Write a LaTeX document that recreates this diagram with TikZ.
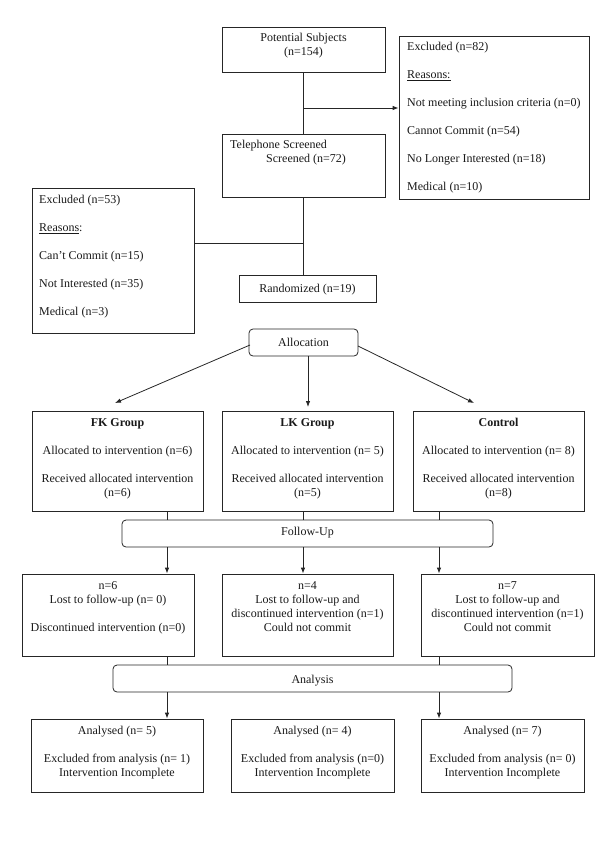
\documentclass[tikz,border=0pt]{standalone}
\usepackage{fontspec}
\setmainfont{Liberation Serif}
\usetikzlibrary{arrows.meta,fit}
\begin{document}
\begin{tikzpicture}[x=1pt,y=-1pt,
  box/.style={draw=black!85, line width=0.8pt, inner sep=0pt, rectangle},
  rbox/.style={box, rounded corners=4pt},
  txt/.style={inner sep=0pt, font=\fontsize{12}{14}\selectfont, align=center, anchor=north, text=black!90},
  ltxt/.style={txt, align=left, anchor=north west},
  ln/.style={draw=black!85, line width=0.8pt},
  arr/.style={ln, -{Latex[length=6pt,width=4.5pt]}}]
\useasboundingbox (0,0) rectangle (600,848);

% ---- boxes ----
\node[box, fit={(222,27) (385,72)}] (ps) {};
\node[box, fit={(399,36) (589,199)}] (ex82) {};
\node[box, fit={(222,134) (385,197)}] (tel) {};
\node[box, fit={(239,275) (376,302)}] (rand) {};
\node[box, fit={(32,188) (194,333)}] (ex53) {};
\node[rbox, fit={(249,329) (358,356)}] (alloc) {};
\node[box, fit={(32,411) (203,511)}] (fk) {};
\node[box, fit={(222,411) (393,511)}] (lk) {};
\node[box, fit={(413,411) (584,511)}] (ctl) {};
\node[rbox, fit={(122,520) (493,547)}] (fu) {};
\node[box, fit={(22,574) (194,656)}] (fa) {};
\node[box, fit={(222,574) (393,656)}] (fb) {};
\node[box, fit={(421,574) (594,656)}] (fc) {};
\node[rbox, fit={(113,665) (512,692)}] (an) {};
\node[box, fit={(31,719) (203,792)}] (aa) {};
\node[box, fit={(231,719) (394,792)}] (ab) {};
\node[box, fit={(421,719) (584,792)}] (ac) {};

% ---- texts (first baseline - 9.8) ----
\node[txt] (pst) at (303.5,31.2) {\strut Potential Subjects\\(n=154)};
\node[ltxt] (ex82t) at (407,40.2) {\strut Excluded (n=82)\\[14pt]\underline{Reasons:}\\[14pt]Not meeting inclusion criteria (n=0)\\[14pt]Cannot Commit (n=54)\\[14pt]No Longer Interested (n=18)\\[14pt]Medical (n=10)};
\node[ltxt] (telt) at (230,138.2) {\strut Telephone Screened\\\hspace*{36pt}Screened (n=72)};
\node[txt] (randt) at (307.5,282.2) {\strut Randomized (n=19)};
\node[ltxt] (ex53t) at (39,193.2) {\strut Excluded (n=53)\\[14pt]\underline{Reasons}:\\[14pt]Can’t Commit (n=15)\\[14pt]Not Interested (n=35)\\[14pt]Medical (n=3)};
\node[txt] (allt) at (303.5,336.2) {\strut Allocation};
\node[txt] (fkt) at (117.5,416.2) {\strut\textbf{FK Group}\\[14pt]Allocated to intervention (n=6)\\[14pt]Received allocated intervention\\(n=6)};
\node[txt] (lkt) at (307.5,416.2) {\strut\textbf{LK Group}\\[14pt]Allocated to intervention (n= 5)\\[14pt]Received allocated intervention\\(n=5)};
\node[txt] (ctlt) at (498.5,416.2) {\strut\textbf{Control}\\[14pt]Allocated to intervention (n= 8)\\[14pt]Received allocated intervention\\(n=8)};
\node[txt] (fut) at (307.5,525.2) {\strut Follow-Up};
\node[txt] (fat) at (108,579.2) {\strut n=6\\Lost to follow-up (n= 0)\\[14pt]Discontinued intervention (n=0)};
\node[txt] (fbt) at (307.5,579.2) {\strut n=4\\Lost to follow-up and\\discontinued intervention (n=1)\\Could not commit};
\node[txt] (fct) at (507.5,579.2) {\strut n=7\\Lost to follow-up and\\discontinued intervention (n=1)\\Could not commit};
\node[txt] (ant) at (312.5,673.2) {\strut Analysis};
\node[txt] (aat) at (117,724.2) {\strut Analysed (n= 5)\\[14pt]Excluded from analysis (n= 1)\\Intervention Incomplete};
\node[txt] (abt) at (312.5,724.2) {\strut Analysed (n= 4)\\[14pt]Excluded from analysis (n=0)\\Intervention Incomplete};
\node[txt] (act) at (502.5,724.2) {\strut Analysed (n= 7)\\[14pt]Excluded from analysis (n= 0)\\Intervention Incomplete};

% ---- helper coordinates ----
\coordinate (j1) at (303.5,108);
\coordinate (j2) at (303.5,243);
\coordinate (fkin) at (115,403);
\coordinate (lkin) at (308,407);
\coordinate (ctlin) at (474,403);
\coordinate (alw) at (250,345);
\coordinate (ale) at (358,346);
\coordinate (c1) at (167,0);
\coordinate (c2) at (303,0);
\coordinate (c3) at (439,0);

% ---- connectors ----
\draw[ln] (ps.south) -- (tel.north);
\draw[arr] (j1) -- (ex82.west |- j1);
\draw[ln] (tel.south) -- (tel.south |- rand.north);
\draw[ln] (j2) -- (ex53.east |- j2);
\draw[arr] (alw) -- (fkin);
\draw[arr] (lkin |- alloc.south) -- (lkin);
\draw[arr] (ale) -- (ctlin);
\draw[ln] (c1 |- fk.south) -- (c1 |- fu.north);
\draw[ln] (c2 |- lk.south) -- (c2 |- fu.north);
\draw[ln] (c3 |- ctl.south) -- (c3 |- fu.north);
\draw[arr] (c1 |- fu.south) -- (c1 |- fa.north);
\draw[arr] (c2 |- fu.south) -- (c2 |- fb.north);
\draw[arr] (c3 |- fu.south) -- (c3 |- fc.north);
\draw[ln] (c1 |- fa.south) -- (c1 |- an.north);
\draw[ln] (c3 |- fc.south) -- (c3 |- an.north);
\draw[arr] (c1 |- an.south) -- (c1 |- aa.north);
\draw[arr] (c3 |- an.south) -- (c3 |- ac.north);
\end{tikzpicture}
\end{document}
